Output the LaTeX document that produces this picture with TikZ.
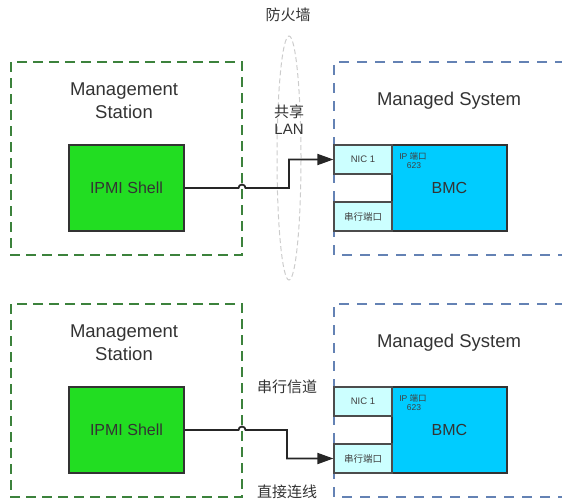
\documentclass[tikz,border=0pt]{standalone}
\usepackage{fontspec}
\setmainfont{Liberation Sans}
\newfontfamily\cjk{Noto Sans CJK SC}
\usetikzlibrary{arrows.meta}
\definecolor{stationGreen}{RGB}{60,130,60}
\definecolor{systemBlue}{RGB}{100,130,180}
\definecolor{shellGreen}{RGB}{34,221,34}
\definecolor{bmcCyan}{RGB}{0,204,255}
\definecolor{portCyan}{RGB}{204,255,255}
\definecolor{textGray}{RGB}{51,51,51}

\begin{document}
\begin{tikzpicture}
[x=1pt,y=-1pt,
  stationDecorate/.style={draw=stationGreen,line width=2pt,dash pattern=on 10pt off 6pt},%
  systemDecorate/.style={draw=systemBlue,line width=1.6pt,dash pattern=on 10pt off 8pt},%
  shellDecorate/.style={draw=black!80,line width=1.6pt,fill=shellGreen,minimum width=115pt,minimum height=86pt,inner sep=0pt,text=black!80,font=\fontsize{16}{19}\selectfont},%
  bmcDecorate/.style={draw=black!80,line width=1.6pt,fill=bmcCyan,minimum width=115pt,minimum height=86pt,inner sep=0pt,text=black!80,font=\fontsize{16}{19}\selectfont},%
  portDecorate/.style={draw=black!70,line width=1.2pt,fill=portCyan,minimum width=58pt,minimum height=29pt,inner sep=0pt,text=black!75},%
  lineDecorate/.style={line width=1.8pt,black!85},%
  labelDecorate/.style={text=textGray,align=center,inner sep=0pt},%
  bigLabel/.style={labelDecorate,font=\fontsize{18.5}{23}\selectfont},%
  cjkLabel/.style={labelDecorate,font=\cjk\fontsize{15}{17}\selectfont}]
\useasboundingbox (0,0) rectangle (562,503);
%% firewall
\draw[gray!40,line width=1pt,dash pattern=on 5pt off 3pt] (289,158) ellipse [x radius=12pt,y radius=122pt];
\node (firewall) at (288,15) [cjkLabel] {防火墙};
\node (sharedlan) at (289,120) [labelDecorate,font=\fontsize{15}{17}\selectfont] {{\cjk 共享}\\LAN};
\node (serialchan) at (287,387) [cjkLabel] {串行信道};
\node (directlink) at (287,492) [cjkLabel] {直接连线};
%% station and system panels
\foreach \s/\dy in {a/0, b/242}
{
  \draw[stationDecorate] (11,62+\dy) rectangle (242,255+\dy);
  \draw[systemDecorate] (565,62+\dy) -- (334,62+\dy) -- (334,255+\dy) -- (565,255+\dy);
  \node (station\s) at (124,101+\dy) [bigLabel] {Management\\Station};
  \node (system\s) at (449,101+\dy) [bigLabel] {Managed System};
  \node (ipmi\s) at (126.5,188+\dy) [shellDecorate] {IPMI Shell};
  \node (bmc\s) at (449.5,188+\dy) [bmcDecorate] {BMC};
  \node (nic\s) at (363,159.5+\dy) [portDecorate,font=\fontsize{9.5}{11}\selectfont] {NIC 1};
  \node (ser\s) at (363,216.5+\dy) [portDecorate,font=\cjk\fontsize{9.5}{11}\selectfont] {串行端口};
  \node (ipport\s) at (413,156+\dy) [labelDecorate,text=black!75,font=\fontsize{8.5}{9}\selectfont] {IP {\cjk 端口}};
  \node (ipnum\s) at (414,166+\dy) [labelDecorate,text=black!75,font=\fontsize{8.5}{9}\selectfont] {623};
}
%% connections
\foreach \s/\dy/\xs/\port in {a/0/289/nic, b/242/287/ser}
{
  \draw[lineDecorate,-{Triangle[length=16pt,width=11pt]}] (ipmi\s.east) -- (238.5,188+\dy)
    arc[start angle=180,end angle=0,radius=3.5pt] -- (\xs,188+\dy) |- (\port\s.west);
}
\end{tikzpicture}
\end{document}
